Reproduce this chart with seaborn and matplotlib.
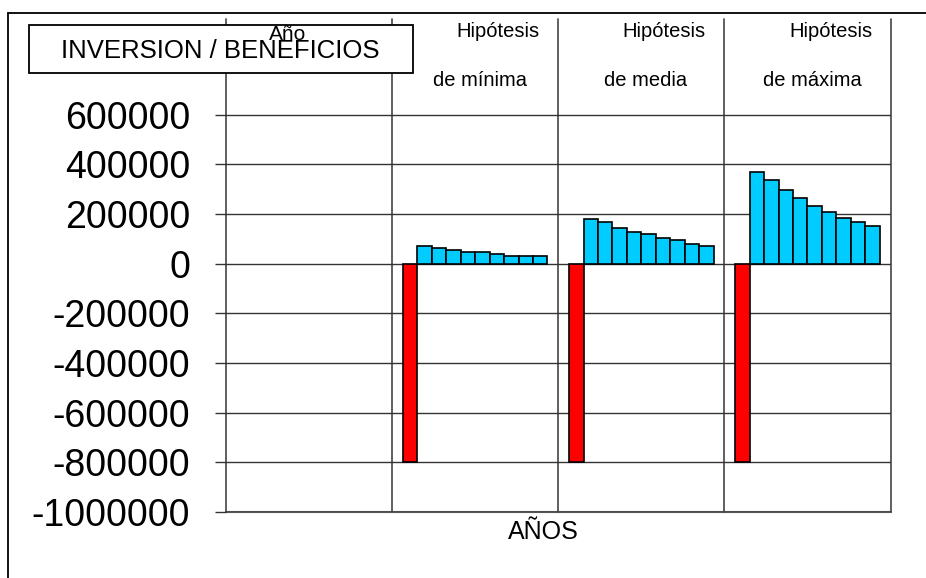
import pandas as pd
import numpy as np
import matplotlib.pyplot as plt
import matplotlib.transforms as mtransforms
from matplotlib.patches import Rectangle
from matplotlib.lines import Line2D
import seaborn as sns

# categorias del eje (la primera no tiene datos)
categorias = ["Año", "Hipótesis de mínima", "Hipótesis de media", "Hipótesis de máxima"]
anios = ["0", "1", "2", "3", "4", "5", "6", "7", "8", "9"]

# inversion (año 0) y beneficios (años 1-9)
inversion = [-800000, -800000, -800000]
beneficios_minima = [72000, 64000, 53000, 45000, 45000, 38000, 31000, 31000, 31000]
beneficios_media = [181000, 168000, 144000, 129000, 118000, 102000, 95000, 79000, 71000]
beneficios_maxima = [368000, 337000, 297000, 264000, 231000, 208000, 183000, 166000, 152000]

yticks = [600000, 400000, 200000, 0, -200000, -400000, -600000, -800000, -1000000]

rows = []
for cat, inv, ben in zip(categorias[1:], inversion,
                         [beneficios_minima, beneficios_media, beneficios_maxima]):
    rows.append((cat, anios[0], inv))
    for a, v in zip(anios[1:], ben):
        rows.append((cat, a, v))
df = pd.DataFrame(rows, columns=["Hipotesis", "Anio", "Valor"])

colores = {a: ("#FF0000" if a == "0" else "#00CCFF") for a in anios}

sns.set_style("white")
plt.rcParams['font.family'] = ['Liberation Sans', 'DejaVu Sans']
plt.rcParams['text.color'] = 'black'
plt.rcParams['axes.labelcolor'] = 'black'
plt.rcParams['ytick.color'] = 'black'
plt.rcParams['ytick.labelcolor'] = 'black'

fig = plt.figure(figsize=(9.26, 5.78), dpi=100)
ax = fig.add_axes([226 / 926, 66 / 578, 664.5 / 926, 493 / 578])

sns.barplot(data=df, x="Hipotesis", y="Valor", hue="Anio", order=categorias,
            hue_order=anios, palette=colores, width=0.87, saturation=1,
            edgecolor="black", linewidth=1.2, legend=False, ax=ax)

ax.set_xlim(-0.5, 3.5)
ax.set_ylim(-1000000, 985000)
ax.set_yticks(yticks)
ax.set_yticklabels([str(t) for t in yticks], fontsize=27, color="black")
ax.tick_params(axis="y", length=8, width=1, color="#333333", pad=18, left=True)
ax.tick_params(axis="x", length=0, labelbottom=False)
ax.set_axisbelow(True)
ax.yaxis.grid(True, color="#333333", linewidth=1)
ax.axhline(yticks[-1], color="#555555", linewidth=1.5, zorder=0.5, clip_on=False)
for s in ax.spines.values():
    s.set_visible(False)
for xv in np.arange(-0.5, 4, 1):
    ax.axvline(xv, color="#444444", linewidth=1.2, zorder=0.5, clip_on=False)

ax.set_ylabel("")
ax.set_xlabel("AÑOS", fontsize=18, va="top", color="black")
ax.xaxis.set_label_coords(317 / 664, -0.016)

# etiquetas de categoria arriba
trans = mtransforms.blended_transform_factory(ax.transData, ax.transAxes)
ax.text(0 - 0.127, 0.957, categorias[0], transform=trans, ha="center",
        va="baseline", fontsize=15, zorder=7, clip_on=False)
for i, cat in enumerate(categorias[1:], start=1):
    p1, p2 = cat.split(" de ")
    ax.text(i + 0.139, 0.9625, p1, transform=trans, ha="center", va="baseline",
            fontsize=14.5, clip_on=False)
    ax.text(i + 0.027, 0.864, "de " + p2, transform=trans, ha="center",
            va="baseline", fontsize=14.5, clip_on=False)

# cuadro de titulo
ax.add_patch(Rectangle((29 / 926, 1 - 73 / 578), 384 / 926, 48 / 578,
                       transform=fig.transFigure, facecolor="white",
                       edgecolor="black", linewidth=1.3, zorder=5, clip_on=False))
ax.text(220 / 926, 1 - 51 / 578, "INVERSION / BENEFICIOS", transform=fig.transFigure,
        ha="center", va="center", fontsize=18.5, zorder=6, clip_on=False)

# marco exterior
fig.add_artist(Line2D([8 / 926, 1], [1 - 12.5 / 578] * 2, color="black", linewidth=1.3))
fig.add_artist(Line2D([8 / 926] * 2, [0, 1 - 12.5 / 578], color="black", linewidth=1.3))

fig.savefig("out.png", dpi=100)
